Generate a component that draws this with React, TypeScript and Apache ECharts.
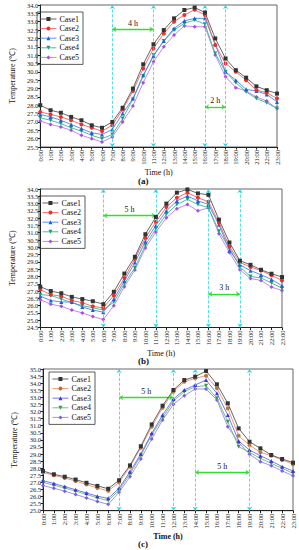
import React, { useEffect, useRef } from "react";
import * as echarts from "echarts";

const hours = ["0:00","1:00","2:00","3:00","4:00","5:00","6:00","7:00","8:00","9:00","10:00","11:00","12:00","13:00","14:00","15:00","16:00","17:00","18:00","19:00","20:00","21:00","22:00","23:00"];
const caseNames = ["Case1", "Case2", "Case3", "Case4", "Case5"];

const a1 = [28.0, 27.7, 27.55, 27.3, 27.1, 26.8, 26.65, 27.0, 27.85, 29.0, 30.45, 31.65, 32.5, 33.2, 33.7, 33.85, 33.55, 32.0, 30.8, 30.1, 29.65, 29.13, 28.9, 28.7];
const a2 = [27.6, 27.45, 27.3, 27.1, 26.85, 26.65, 26.45, 26.8, 27.75, 28.85, 30.2, 31.4, 32.3, 33.0, 33.4, 33.72, 33.4, 31.6, 30.5, 30.0, 29.5, 28.9, 28.75, 28.4];
const a3 = [27.45, 27.3, 27.1, 26.85, 26.6, 26.35, 26.25, 26.55, 27.5, 28.4, 29.8, 30.95, 31.85, 32.6, 33.05, 33.2, 33.2, 31.65, 30.0, 29.5, 28.95, 28.85, 28.65, 28.2];
const a4 = [27.25, 27.1, 26.9, 26.65, 26.45, 26.2, 26.0, 26.25, 27.2, 28.35, 29.75, 31.0, 31.85, 32.5, 32.9, 33.1, 32.85, 31.1, 30.0, 29.35, 28.8, 28.4, 28.15, 27.8];
const a5 = [27.05, 26.85, 26.7, 26.5, 26.2, 26.0, 25.8, 26.1, 27.0, 27.95, 29.35, 30.6, 31.5, 32.2, 32.75, 32.7, 32.7, 31.0, 29.7, 29.05, 28.85, 28.5, 28.25, 27.8];

const b1 = [27.3, 27.0, 26.85, 26.6, 26.45, 26.3, 26.1, 26.95, 28.2, 29.35, 30.9, 32.08, 33.0, 33.75, 33.97, 33.7, 33.6, 31.9, 30.33, 29.08, 28.8, 28.46, 28.19, 27.96];
const b2 = [27.1, 26.75, 26.65, 26.35, 26.2, 25.95, 25.85, 26.7, 27.9, 29.2, 30.65, 31.75, 32.76, 33.4, 33.75, 33.4, 33.13, 31.67, 30.06, 28.96, 28.65, 28.4, 28.08, 27.73];
const b3 = [26.65, 26.35, 26.25, 26.25, 25.9, 25.7, 25.55, 26.45, 27.7, 28.95, 30.4, 31.5, 32.5, 33.18, 33.52, 33.18, 32.95, 31.55, 29.79, 28.8, 28.4, 28.12, 27.8, 27.36];
const b4 = [26.75, 26.7, 26.45, 26.2, 26.0, 25.85, 25.7, 26.25, 27.5, 28.6, 30.15, 31.27, 32.26, 32.94, 33.29, 32.94, 32.72, 31.1, 29.95, 28.65, 28.0, 27.9, 27.55, 27.2];
const b5 = [26.4, 26.1, 25.95, 25.7, 25.5, 25.25, 25.05, 26.0, 27.3, 28.45, 29.95, 31.05, 32.03, 32.65, 32.94, 32.5, 32.7, 30.93, 29.65, 28.46, 27.86, 27.73, 27.27, 27.04];

const c1 = [27.8, 27.57, 27.4, 27.2, 26.97, 26.75, 26.55, 27.15, 28.2, 29.55, 31.09, 32.41, 33.52, 34.22, 34.46, 34.86, 33.92, 32.58, 30.81, 29.87, 29.4, 28.93, 28.65, 28.39];
const c2 = [27.7, 27.5, 27.3, 27.1, 26.85, 26.6, 26.4, 27.0, 28.1, 29.45, 30.93, 32.27, 33.4, 34.1, 34.34, 34.53, 33.64, 32.22, 30.29, 29.63, 29.12, 28.88, 28.58, 28.27];
const c3 = [27.12, 26.92, 26.7, 26.48, 26.25, 26.02, 25.87, 26.58, 27.75, 29.0, 30.46, 31.75, 32.88, 33.52, 33.87, 34.22, 33.28, 31.75, 29.92, 29.28, 28.88, 28.51, 28.11, 27.8];
const c4 = [27.0, 26.8, 26.6, 26.38, 26.15, 25.9, 25.72, 26.45, 27.6, 28.9, 30.34, 31.56, 32.74, 33.4, 33.75, 33.82, 32.93, 31.28, 29.52, 29.12, 28.69, 28.34, 27.99, 27.64];
const c5 = [26.78, 26.58, 26.38, 26.15, 25.9, 25.65, 25.45, 26.3, 27.4, 28.65, 30.06, 31.4, 32.51, 33.12, 33.59, 33.59, 32.81, 30.93, 29.82, 28.98, 28.46, 28.18, 27.8, 27.47];

const panelData = [[a1, a2, a3, a4, a5], [b1, b2, b3, b4, b5], [c1, c2, c3, c4, c5]];
const yRanges = [[25.5, 34.0], [24.5, 34.0], [25.0, 35.0]];
const guideHours = [["7:00", "11:00", "16:00", "18:00"], ["6:00", "11:00", "16:00", "19:00"], ["7:00", "12:00", "14:00", "19:00"]];
const spanArrows = [
  [{ from: "7:00", to: "11:00", y: 32.55, text: "4 h" }, { from: "16:00", to: "18:00", y: 27.9, text: "2 h" }],
  [{ from: "6:00", to: "11:00", y: 32.17, text: "5 h" }, { from: "16:00", to: "19:00", y: 26.8, text: "3 h" }],
  [{ from: "7:00", to: "12:00", y: 32.98, text: "5 h" }, { from: "14:00", to: "19:00", y: 27.7, text: "5 h" }],
];
const panelLabels = ["(a)", "(b)", "(c)"];

const FONT = "'Liberation Serif', 'Times New Roman', serif";
const colorsAB = ["#333333", "#e8302c", "#1f5fd8", "#17a07a", "#a64ee0"];
const colorsC = ["#333333", "#b8743a", "#3a3ad8", "#3a9a50", "#7a5ee0"];
const lineColorsAB = ["#555555", "#f06060", "#4a84e8", "#3ab890", "#c07ae8"];
const lineColorsC = ["#555555", "#e89070", "#6a6ae8", "#6ab878", "#9a86e8"];
const symbols = ["rect", "circle", "triangle", "triangle", "diamond"];
const symbolRotates = [0, 0, 0, 180, 0];

const grids = [
  { left: 29, top: 5, width: 248, height: 142 },
  { left: 32, top: 189, width: 250, height: 138.5 },
  { left: 43, top: 369, width: 250, height: 141.7 },
];
const legendPos = [
  { left: 37, top: 12 },
  { left: 39, top: 196 },
  { left: 49, top: 372 },
];
const yNameGaps = [18, 20, 18];
const xNameGaps = [21, 20, 18];
const labelTops = [176, 356, 539];

export default function App() {
  const ref = useRef<HTMLDivElement>(null);
  useEffect(() => {
    if (!ref.current) return;
    const chart = echarts.init(ref.current, null, { renderer: "svg" });
    const series: any[] = [];
    panelData.forEach((cases, p) => {
      const cols = p === 2 ? colorsC : colorsAB;
      const lcols = p === 2 ? lineColorsC : lineColorsAB;
      cases.forEach((vals, i) => {
        const s: any = {
          name: caseNames[i],
          type: "line",
          xAxisIndex: p,
          yAxisIndex: p,
          data: vals,
          symbol: symbols[i],
          symbolRotate: symbolRotates[i],
          symbolSize: 4,
          showAllSymbol: true,
          itemStyle: { color: cols[i] },
          lineStyle: { color: lcols[i], width: 0.9 },
          z: 5 - i,
        };
        if (i === 0) {
          s.markLine = {
            silent: true,
            animation: false,
            symbol: ["arrow", "arrow"],
            symbolSize: 4,
            data: [
              ...guideHours[p].map((h) => ({
                xAxis: h,
                lineStyle: { color: "#33d6e0", type: "dashed", width: 0.8 },
                label: { show: false },
              })),
              ...spanArrows[p].map((a) => [
                {
                  coord: [a.from, a.y],
                  lineStyle: { color: "#33dd33", type: "solid", width: 1.3 },
                  label: {
                    show: true,
                    formatter: a.text,
                    position: "insideMiddleTop",
                    color: "#222",
                    fontSize: 8,
                    fontFamily: FONT,
                    distance: 2,
                  },
                },
                { coord: [a.to, a.y] },
              ]),
            ],
          };
        }
        series.push(s);
      });
    });

    const option: any = {
      animation: false,
      backgroundColor: "#ffffff",
      textStyle: { fontFamily: FONT },
      title: panelLabels.map((t, p) => ({
        text: t,
        left: 138,
        top: labelTops[p],
        padding: 0,
        textStyle: { fontSize: 9, fontWeight: "bold", color: "#111", fontFamily: FONT },
      })),
      grid: grids.map((g) => ({ ...g, show: true, borderColor: "#666", borderWidth: 1, containLabel: false })),
      legend: panelData.map((_, p) => {
        const cols = p === 2 ? colorsC : colorsAB;
        const lcols = p === 2 ? lineColorsC : lineColorsAB;
        return {
          orient: "vertical",
          left: legendPos[p].left,
          top: legendPos[p].top,
          itemWidth: 16,
          itemHeight: 5,
          itemGap: 1.6,
          padding: [3, 4, 3, 3],
          borderColor: "#333",
          borderWidth: 0.8,
          selectedMode: false,
          textStyle: { fontSize: 8, fontFamily: FONT, color: "#111", padding: [0, 0, 0, -2] },
          data: caseNames.map((n, i) => ({
            name: n,
            itemStyle: { color: cols[i] },
            lineStyle: { color: lcols[i], width: 0.9 },
          })),
        };
      }),
      xAxis: grids.map((_, p) => ({
        type: "category",
        gridIndex: p,
        data: hours,
        boundaryGap: false,
        name: "Time (h)",
        nameLocation: "middle",
        nameGap: xNameGaps[p],
        nameTextStyle: { fontSize: 8, fontFamily: FONT, color: "#111", fontWeight: p === 2 ? "bold" : "normal" },
        axisLine: { lineStyle: { color: "#222", width: 1 } },
        axisTick: { show: true, length: 2.5, alignWithLabel: true, interval: 0, lineStyle: { color: "#222" } },
        axisLabel: { rotate: 90, interval: 0, fontSize: 6.5, fontFamily: FONT, color: "#222", margin: 3 },
        splitLine: { show: false },
      })),
      yAxis: grids.map((_, p) => ({
        type: "value",
        gridIndex: p,
        min: yRanges[p][0],
        max: yRanges[p][1],
        interval: 0.5,
        name: "Temperature (℃)",
        nameLocation: "middle",
        nameGap: yNameGaps[p],
        nameTextStyle: { fontSize: 8, fontFamily: FONT, color: "#111" },
        axisLine: { show: true, lineStyle: { color: "#222", width: 1 } },
        axisTick: { show: true, length: 2.5, lineStyle: { color: "#222" } },
        axisLabel: { fontSize: 6.5, fontFamily: FONT, color: "#222", margin: 2, formatter: (v: number) => v.toFixed(1) },
        splitLine: { show: false },
      })),
      series,
    };
    chart.setOption(option);
    return () => chart.dispose();
  }, []);
  return (
    <div
      ref={ref}
      style={{ position: "fixed", left: 0, top: 0, width: 299, height: 550, background: "#fff" }}
    />
  );
}
